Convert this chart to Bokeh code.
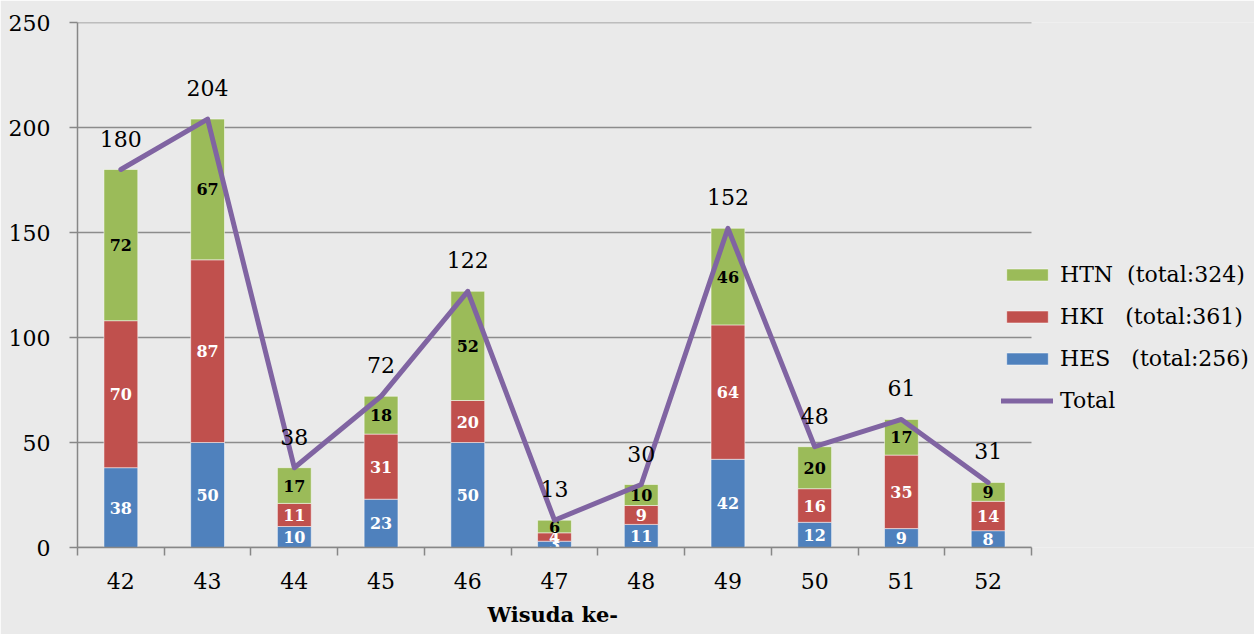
from bokeh.plotting import figure
from bokeh.models import ColumnDataSource, FixedTicker, Legend, LegendItem, Range1d, Title
from bokeh.core.properties import value
from bokeh.embed import file_html
from bokeh.resources import INLINE

wisuda = [42, 43, 44, 45, 46, 47, 48, 49, 50, 51, 52]
hes = [38, 50, 10, 23, 50, 3, 11, 42, 12, 9, 8]
hki = [70, 87, 11, 31, 20, 4, 9, 64, 16, 35, 14]
htn = [72, 67, 17, 18, 52, 6, 10, 46, 20, 17, 9]
total = [180, 204, 38, 72, 122, 13, 30, 152, 48, 61, 31]
y_ticks = [0, 50, 100, 150, 200, 250]
legend_labels = ["HTN  (total:324)", "HKI   (total:361)", "HES   (total:256)", "Total"]
x_title = "Wisuda ke-"

C_HES = "#4F81BD"
C_HKI = "#C0504D"
C_HTN = "#9BBB59"
C_TOT = "#8064A2"
BG = "#eaeaea"
GRID = "#8c8c8c"
FONT = "DejaVu Serif"

x_lo = wisuda[0] - 0.5
x_hi = wisuda[-1] + 0.5
# the frame reaches the right edge so the legend can sit inside it;
# the category band (x_lo..x_hi) occupies the left 954 px of the 1177 px frame
x_end = x_lo + (x_hi - x_lo) * 1177 / 954

src = ColumnDataSource(dict(
    x=wisuda, hes=hes, hki=hki, htn=htn, total=total,
    total_s=[str(v) for v in total],
))

p = figure(width=1254, height=634, x_range=Range1d(x_lo, x_end), y_range=Range1d(0, 250),
           output_backend="svg", toolbar_location=None,
           min_border_left=77, min_border_right=0, min_border_top=22, min_border_bottom=86,
           background_fill_color=BG, border_fill_color=BG)
p.outline_line_color = None
p.xgrid.grid_line_color = None
p.ygrid.grid_line_color = None

# horizontal gridlines limited to the category band
p.segment(x0=[x_lo] * len(y_ticks), x1=[x_hi] * len(y_ticks), y0=y_ticks, y1=y_ticks,
          line_color=GRID, line_width=1.5)

rs = p.vbar_stack(["hes", "hki", "htn"], x="x", width=0.39, source=src,
                  fill_color=[C_HES, C_HKI, C_HTN], line_color="white", line_alpha=0.5, line_width=1)

# segment labels
seg_x, seg_y, seg_t, seg_c = [], [], [], []
for i, xv in enumerate(wisuda):
    base = 0
    for vals, col in ((hes, "white"), (hki, "white"), (htn, "black")):
        v = vals[i]
        seg_x.append(xv)
        seg_y.append(base + v / 2)
        seg_t.append(str(v))
        seg_c.append(col)
        base += v
seg_src = ColumnDataSource(dict(x=seg_x, y=seg_y, t=seg_t, c=seg_c))
p.text(x="x", y="y", text="t", source=seg_src, text_color="c", text_font=value(FONT),
       text_font_style="bold", text_font_size="16px", text_align="center", text_baseline="middle")

rl = p.line(x="x", y="total", source=src, line_color=C_TOT, line_width=5, line_cap="round", line_join="round")
p.text(x="x", y="total", text="total_s", source=src, text_font=value(FONT), text_font_size="22px",
       text_align="center", text_baseline="middle", y_offset=-31, text_color="black")

# axes
ax = p.xaxis[0]
ax.bounds = (x_lo, x_hi)
ax.ticker = FixedTicker(ticks=wisuda, minor_ticks=[v - 0.5 for v in wisuda] + [x_hi])
ax.major_tick_line_color = None
ax.major_tick_out = 8
ax.major_tick_in = 0
ax.minor_tick_out = 8
ax.minor_tick_in = 0
ax.minor_tick_line_color = "#878787"
ax.minor_tick_line_width = 1.5
ax.axis_line_color = "#878787"
ax.axis_line_width = 1.5
ax.major_label_text_font = FONT
ax.major_label_text_font_size = "22px"
ax.major_label_text_color = "black"
ax.major_label_standoff = 17

ay = p.yaxis[0]
ay.ticker = FixedTicker(ticks=y_ticks)
ay.major_tick_out = 8
ay.major_tick_in = 0
ay.minor_tick_line_color = None
ay.major_tick_line_color = "#878787"
ay.major_tick_line_width = 1.5
ay.axis_line_color = "#878787"
ay.axis_line_width = 1.5
ay.major_label_text_font = FONT
ay.major_label_text_font_size = "22px"
ay.major_label_text_color = "black"
ay.major_label_standoff = 19

# x-axis title centred under the category band (not the whole frame)
p.add_layout(Title(text=x_title, align="left", offset=410, text_font=FONT, text_font_style="bold",
                   text_font_size="21px", text_color="black", standoff=16), "below")

legend = Legend(items=[
    LegendItem(label=legend_labels[0], renderers=[rs[2]]),
    LegendItem(label=legend_labels[1], renderers=[rs[1]]),
    LegendItem(label=legend_labels[2], renderers=[rs[0]]),
    LegendItem(label=legend_labels[3], renderers=[rl]),
], location=(924, 134), padding=0, margin=0, spacing=16,
    glyph_width=52, glyph_height=15, label_height=26, label_standoff=7,
    label_text_font=FONT, label_text_font_size="22px", label_text_color="black",
    border_line_color=None, background_fill_alpha=0)
p.add_layout(legend)

open("out.html", "w").write(file_html(p, INLINE))
